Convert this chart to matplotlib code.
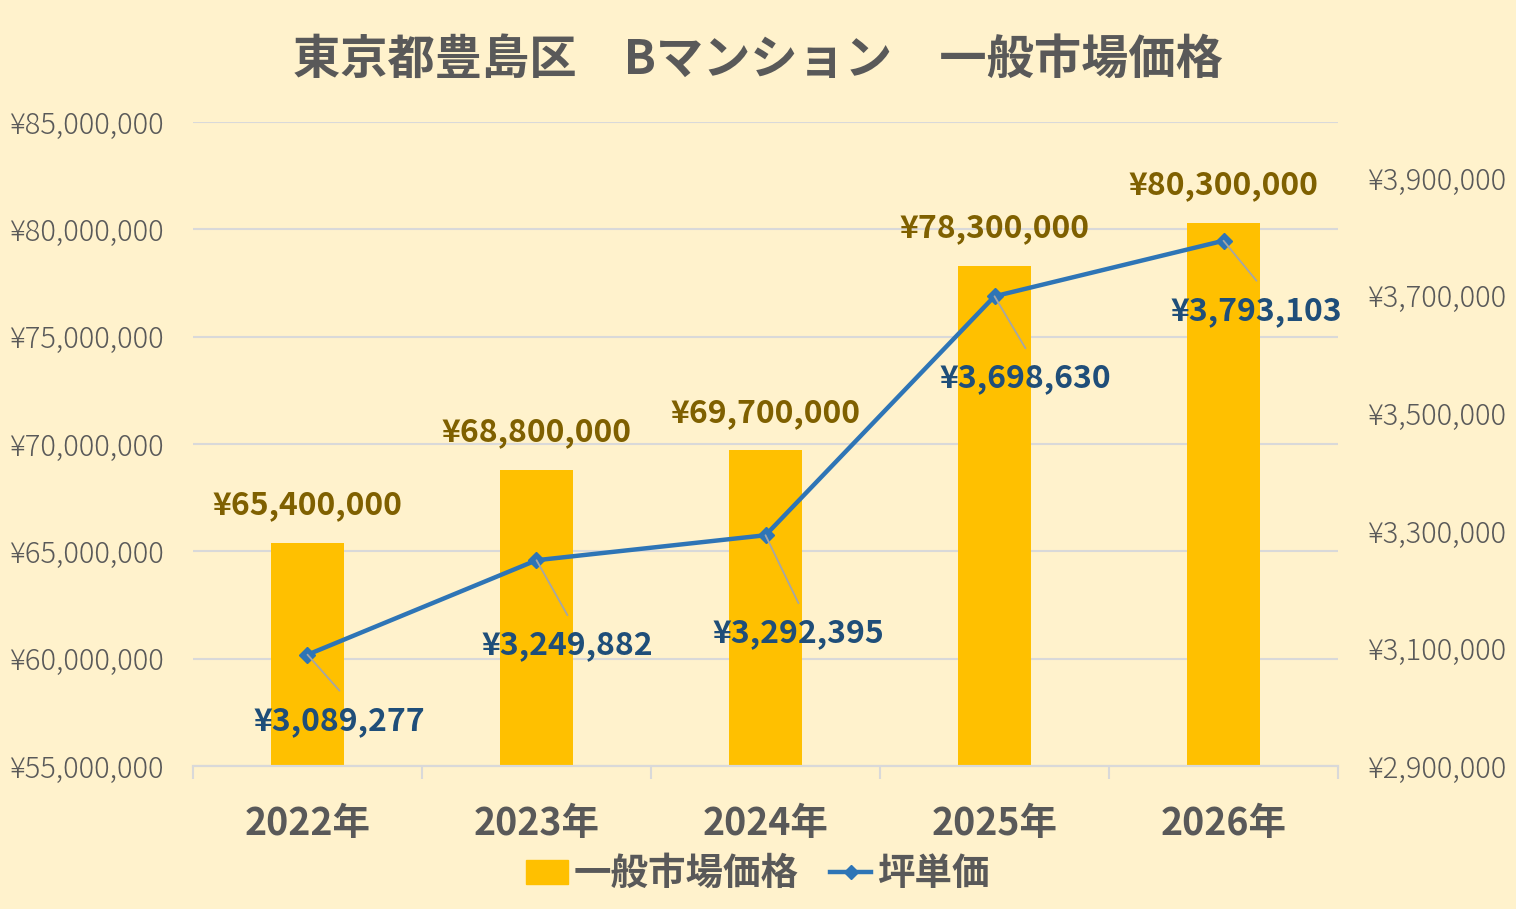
#!/usr/bin/env python3
import matplotlib
matplotlib.use('Agg')
import matplotlib.pyplot as plt
from matplotlib.ticker import FuncFormatter, FixedLocator

plt.rcParams['font.family'] = ['Noto Sans CJK JP', 'DejaVu Sans']

# data
years = ['2022年', '2023年', '2024年', '2025年', '2026年']
market_price = [65400000, 68800000, 69700000, 78300000, 80300000]
tsubo_price = [3089277, 3249882, 3292395, 3698630, 3793103]
left_ticks = [55000000, 60000000, 65000000, 70000000, 75000000, 80000000, 85000000]
right_ticks = [2900000, 3100000, 3300000, 3500000, 3700000, 3900000]
# label offsets for line labels (px)
line_label_offsets = [(32, -66), (31, -85), (33, -98), (31, -82), (33, -70)]

bg = '#FFF2CC'
grid_c = '#D9D9D9'
tick_c = '#595959'
bar_c = '#FFC000'
line_c = '#2E75B6'
bar_lbl_c = '#7F6000'
line_lbl_c = '#1F4E79'

fig = plt.figure(figsize=(15.16, 9.09), dpi=100, facecolor=bg)
ax = fig.add_axes([0.1273, 0.1573, 0.7553, 0.7085])
ax.set_facecolor(bg)
ax2 = ax.twinx()

x = list(range(len(years)))
ax.bar(x, market_price, width=0.315, color=bar_c, zorder=2)
ax.set_ylim(55000000, 85000000)
ax.set_xlim(-0.5, len(years) - 0.5)
ax.yaxis.set_major_locator(FixedLocator(left_ticks))
yen = FuncFormatter(lambda v, p: '¥{:,.0f}'.format(v))
ax.yaxis.set_major_formatter(yen)
ax.grid(axis='y', color=grid_c, linewidth=1.5, zorder=0)
ax.set_axisbelow(True)

ax2.plot(x, tsubo_price, color=line_c, linewidth=3.2, marker='D', markersize=8, zorder=3)
ax2.set_ylim(2900000, 3995000)
ax2.yaxis.set_major_locator(FixedLocator(right_ticks))
ax2.yaxis.set_major_formatter(yen)

for a in (ax, ax2):
    for s in ('top', 'left', 'right'):
        a.spines[s].set_visible(False)
    a.spines['bottom'].set_color(grid_c)
    a.spines['bottom'].set_linewidth(1.5)
    a.tick_params(axis='y', length=0, labelsize=21, labelcolor=tick_c, pad=21)
    for t in a.get_yticklabels():
        t.set_fontweight('light')

ax.set_xticks(x)
ax.set_xticklabels(years, fontsize=27, fontweight='bold', color=tick_c)
ax.set_xticks([i - 0.5 for i in range(len(years) + 1)], minor=True)
ax.tick_params(axis='x', which='major', length=0, pad=27)
ax.tick_params(axis='x', which='minor', length=9, width=1.5, color=grid_c, direction='out')

# bar labels
for xi, v in zip(x, market_price):
    ax.annotate('¥{:,}'.format(v), (xi, v), xytext=(0, 27), textcoords='offset points',
                ha='center', va='center', fontsize=23, fontweight='bold', color=bar_lbl_c)

# line labels with leader lines
for xi, v, (dx, dy) in zip(x, tsubo_price, line_label_offsets):
    dxp, dyp = dx * 0.72, dy * 0.72
    ax2.annotate('', (xi, v), xytext=(dxp, dyp + 30 * 0.72), textcoords='offset points',
                 arrowprops=dict(arrowstyle='-', color='#A6A6A6', lw=1.3, shrinkA=0, shrinkB=0))
    ax2.annotate('¥{:,}'.format(v), (xi, v), xytext=(dxp, dyp), textcoords='offset points',
                 ha='center', va='center', fontsize=23, fontweight='bold', color=line_lbl_c,
                 zorder=4)

fig.text(0.5, 0.934, '東京都豊島区　Bマンション　一般市場価格', ha='center', va='center',
         fontsize=34, fontweight='bold', color=tick_c)

# legend
handles = [plt.Rectangle((0, 0), 1, 1, color=bar_c),
           plt.Line2D([], [], color=line_c, linewidth=3.2, marker='D', markersize=7)]
leg = fig.legend(handles, ['一般市場価格', '坪単価'], loc='center', bbox_to_anchor=(0.5, 0.039),
                 ncol=2, frameon=False, prop={'size': 27, 'weight': 'bold'},
                 handlelength=1.1, handleheight=0.6, handletextpad=0.15, columnspacing=0.85)
for t in leg.get_texts():
    t.set_color(tick_c)

fig.savefig('out.png', facecolor=bg)
